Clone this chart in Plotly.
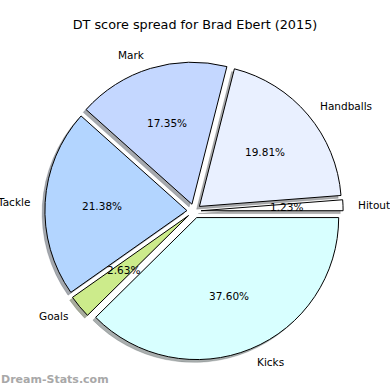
import math
import plotly.graph_objects as go

# ---- data ----
labels = ["Hitout", "Handballs", "Mark", "Tackle", "Goals", "Kicks"]
values = [1.23, 19.81, 17.35, 21.38, 2.63, 37.60]
colors = ["#ffffff", "#e9f0ff", "#c4d7ff", "#b3d5ff", "#cceb8b", "#d8ffff"]
title = "DT score spread for Brad Ebert (2015)"
watermark = "Dream-Stats.com"

# ---- layout constants (pixels) ----
W = H = 390
CX, CY = 194, 211          # pie centre, from top-left
R = 142                    # radius
PULL = 0.05
SHADOW = 2.8
FONT = "DejaVu Sans"

total = sum(values)
# plotly (counterclockwise) ends the first slice at `rotation`; make it start at 3 o'clock
ROT = 90 - 360 * values[0] / total


def domain(dx=0.0, dy=0.0):
    half = R * (1 + PULL)
    x0 = (CX + dx - half) / W
    x1 = (CX + dx + half) / W
    yc = H - (CY + dy)
    y0 = (yc - half) / H
    y1 = (yc + half) / H
    return dict(x=[x0, x1], y=[y0, y1])


def hex_to_rgb(h):
    h = h.lstrip("#")
    return tuple(int(h[i:i + 2], 16) for i in (0, 2, 4))


shadow_cols = []
for c in colors:
    r, g, b = hex_to_rgb(c)
    shadow_cols.append(f"rgba({int(r*0.3)},{int(g*0.3)},{int(b*0.3)},0.45)")

fig = go.Figure()
fig.add_trace(go.Pie(
    labels=labels, values=values, sort=False, direction="counterclockwise",
    rotation=ROT, pull=[PULL] * len(values), textinfo="none", hoverinfo="skip",
    marker=dict(colors=shadow_cols, line=dict(color=shadow_cols, width=0.5)),
    domain=domain(-SHADOW, SHADOW), showlegend=False,
))
fig.add_trace(go.Pie(
    labels=labels, values=values, sort=False, direction="counterclockwise",
    rotation=ROT, pull=[PULL] * len(values), textinfo="none",
    marker=dict(colors=colors, line=dict(color="black", width=1)),
    domain=domain(), showlegend=False,
))

annotations = []
start = 0.0
for lab, v in zip(labels, values):
    mid = math.radians((start + v / 2) / total * 360)
    start += v
    ux, uy = math.cos(mid), math.sin(mid)
    # label
    d = PULL * R + 1.1 * R
    lx, ly = CX + d * ux, CY - d * uy
    annotations.append(dict(
        x=lx / W, y=1 - ly / H, xref="paper", yref="paper", text=lab,
        showarrow=False, xanchor="left" if ux > 0 else "right", yanchor="middle",
        borderpad=0, font=dict(family=FONT, size=10.5, color="black"),
    ))
    # percentage
    d = PULL * R + 0.6 * R
    px_, py_ = CX + d * ux, CY - d * uy
    annotations.append(dict(
        x=px_ / W, y=1 - py_ / H, xref="paper", yref="paper",
        text=f"{v / total * 100:.2f}%", showarrow=False,
        xanchor="center", yanchor="middle", borderpad=0,
        font=dict(family=FONT, size=10.5, color="black"),
    ))

annotations.append(dict(
    x=0, y=1 - 379 / H, xref="paper", yref="paper", text=watermark,
    showarrow=False, xanchor="left", yanchor="middle", borderpad=0,
    font=dict(family=FONT, size=11, color="#a8a8a8", weight="bold"),
))

fig.update_layout(
    width=W, height=H, margin=dict(l=0, r=0, t=0, b=0),
    paper_bgcolor="white", plot_bgcolor="white",
    title=dict(text=title, x=0.5, xanchor="center", y=1 - 25 / H,
               yanchor="middle", font=dict(family=FONT, size=12.8, color="black")),
    annotations=annotations,
)

fig.write_html(
    "out.html",
    config={"displayModeBar": False},
    post_script="document.body.style.margin='0';document.body.style.overflow='hidden';",
)
